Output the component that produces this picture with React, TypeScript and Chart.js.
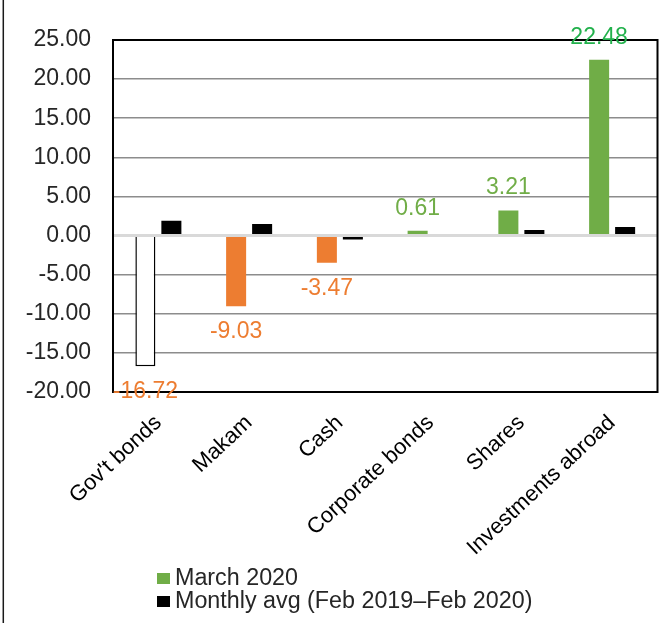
import React, { useEffect, useRef } from "react";
import { Chart, registerables } from "chart.js";

Chart.register(...registerables);

const FONT = '"Liberation Sans", Arial, sans-serif';

const categories = ["Gov't bonds", "Makam", "Cash", "Corporate bonds", "Shares", "Investments abroad"];
const march2020 = [-16.72, -9.03, -3.47, 0.61, 3.21, 22.48];
const monthlyAvg = [1.89, 1.47, -0.5, 0, 0.7, 1.08];

const marchColors = ["#FFFFFF", "#ED7D31", "#ED7D31", "#70AD47", "#70AD47", "#70AD47"];
const marchBorderColors = ["#000000", "#ED7D31", "#ED7D31", "#70AD47", "#70AD47", "#70AD47"];
const marchBorderWidths = [1.5, 0, 0, 0, 0, 0];
const labelColors = ["#ED7D31", "#ED7D31", "#ED7D31", "#70AD47", "#70AD47", "#22B14C"];

const yMin = -20;
const yMax = 25;
const yStep = 5;

const legendLabels = ["March 2020", "Monthly avg (Feb 2019\u2013Feb 2020)"];
const legendColors = ["#70AD47", "#000000"];

const overlayPlugin = {
  id: "overlay",
  afterDatasetsDraw(chart: any) {
    const { ctx, chartArea } = chart;
    const { left, right, top, bottom } = chartArea;
    const yScale = chart.scales.y;
    ctx.save();

    // zero axis line
    const y0 = yScale.getPixelForValue(0);
    ctx.strokeStyle = "#D9D9D9";
    ctx.lineWidth = 3;
    ctx.beginPath();
    ctx.moveTo(left, y0);
    ctx.lineTo(right, y0);
    ctx.stroke();

    // plot border
    ctx.strokeStyle = "#000000";
    ctx.lineWidth = 2;
    ctx.strokeRect(left, top, right - left, bottom - top);

    // data labels
    const meta = chart.getDatasetMeta(0);
    ctx.font = `23px ${FONT}`;
    ctx.textAlign = "center";
    ctx.textBaseline = "alphabetic";
    meta.data.forEach((bar: any, i: number) => {
      const v = march2020[i];
      ctx.fillStyle = labelColors[i];
      ctx.fillText(v.toFixed(2), bar.x, v >= 0 ? bar.y - 16 : bar.y + 32);
    });

    // outer frame line (left)
    ctx.strokeStyle = "#1a1a1a";
    ctx.lineWidth = 1.5;
    ctx.beginPath();
    ctx.moveTo(3.3, 0);
    ctx.lineTo(3.3, chart.height);
    ctx.stroke();

    // legend
    const baselines = [585, 608];
    ctx.font = `23.3px ${FONT}`;
    ctx.textAlign = "left";
    legendLabels.forEach((lab, i) => {
      ctx.fillStyle = legendColors[i];
      ctx.fillRect(157, baselines[i] - 12, 13, 11);
      ctx.fillStyle = "#262626";
      ctx.fillText(lab, 175, baselines[i]);
    });

    ctx.restore();
  },
};

export default function App() {
  const canvasRef = useRef<HTMLCanvasElement | null>(null);

  useEffect(() => {
    if (!canvasRef.current) return;
    const chart = new Chart(canvasRef.current, {
      type: "bar",
      data: {
        labels: categories,
        datasets: [
          {
            label: legendLabels[0],
            data: march2020,
            backgroundColor: marchColors,
            borderColor: marchBorderColors,
            borderWidth: marchBorderWidths,
            categoryPercentage: 0.573,
            barPercentage: 0.77,
          },
          {
            label: legendLabels[1],
            data: monthlyAvg,
            backgroundColor: "#000000",
            borderWidth: 0,
            categoryPercentage: 0.573,
            barPercentage: 0.77,
          },
        ],
      },
      options: {
        responsive: false,
        animation: false,
        devicePixelRatio: 1,
        layout: { padding: { left: 0, right: 1.5, top: 40, bottom: 0 } },
        plugins: {
          legend: { display: false },
          tooltip: { enabled: false },
          title: { display: false },
        },
        scales: {
          x: {
            grid: { display: false, drawTicks: false },
            border: { display: false },
            ticks: {
              autoSkip: false,
              minRotation: 43,
              maxRotation: 43,
              padding: 18,
              color: "#000000",
              font: { family: FONT, size: 22 },
            },
            afterFit(scale: any) {
              scale.height = 231;
              scale.paddingLeft = 0;
              scale.paddingRight = 0;
            },
          },
          y: {
            min: yMin,
            max: yMax,
            ticks: {
              stepSize: yStep,
              padding: 22,
              color: "#262626",
              font: { family: FONT, size: 23 },
              callback: (v: any) => Number(v).toFixed(2),
            },
            grid: {
              drawTicks: false,
              color: (ctx: any) => (ctx.tick && ctx.tick.value === 0 ? "rgba(0,0,0,0)" : "#8C8C8C"),
              lineWidth: 1.5,
            },
            border: { display: false },
            afterFit(scale: any) {
              scale.width = 113;
            },
          },
        },
      },
      plugins: [overlayPlugin],
    });
    return () => chart.destroy();
  }, []);

  return (
    <div style={{ position: "absolute", left: 0, top: 0, width: 659, height: 623, background: "#ffffff" }}>
      <canvas ref={canvasRef} width={659} height={623} />
    </div>
  );
}
